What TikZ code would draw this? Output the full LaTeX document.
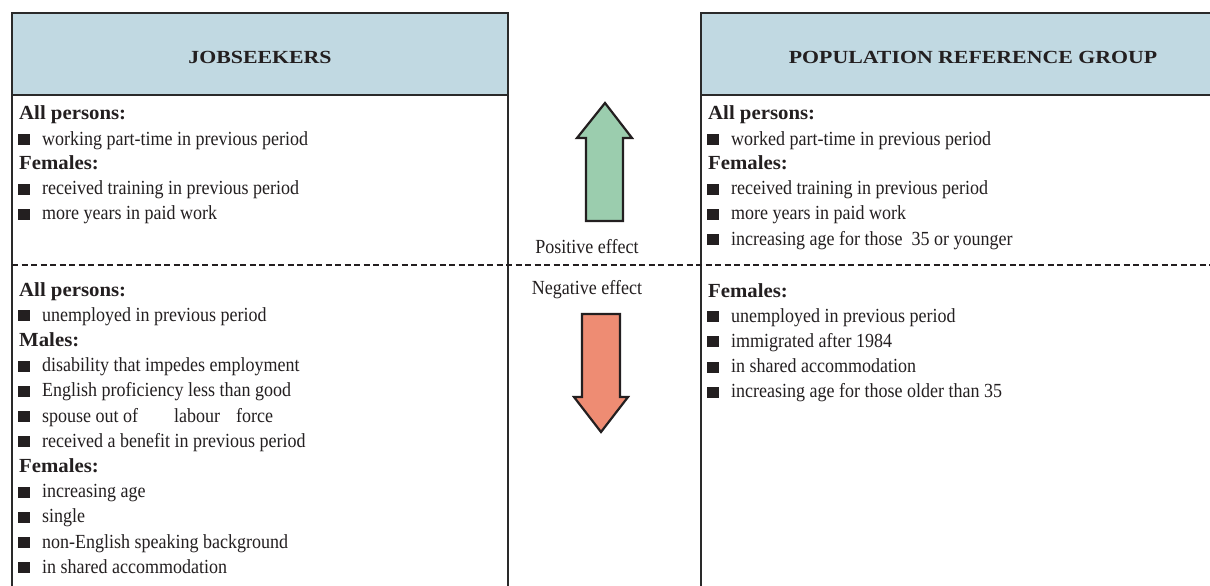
\documentclass[tikz,border=0pt]{standalone}
\usepackage{fontspec}
\setmainfont{Liberation Serif}[FakeStretch=0.9]
\newfontfamily\headfont{Liberation Serif}[FakeStretch=1.18]
\newfontfamily\labfont{Liberation Serif}[FakeStretch=1.04]

\definecolor{ink}{HTML}{231F20}
\definecolor{headblue}{HTML}{C1D9E2}
\definecolor{upgreen}{HTML}{9BCDAE}
\definecolor{downred}{HTML}{EE8C73}
\definecolor{framecol}{HTML}{2A2A2A}

\tikzset{
  headbox/.style={draw=framecol, line width=2.5pt, fill=headblue, outer sep=0pt,
    minimum height=82pt, text height=19pt, text depth=0pt, text=ink,
    font=\headfont\bfseries\fontsize{18.5}{21}\selectfont},
  frameline/.style={draw=framecol, line width=2.5pt},
  divider/.style={draw=ink, line width=2pt, dash pattern=on 6pt off 3.5pt},
  rowhead/.style={anchor=base west, inner sep=0pt, text=ink,
    font=\labfont\bfseries\fontsize{20}{22}\selectfont},
  rowitem/.style={anchor=base west, inner sep=0pt, text=ink,
    font=\fontsize{20}{22}\selectfont},
  effect/.style={anchor=base, inner sep=0pt, text=ink, font=\fontsize{20}{22}\selectfont},
  bigarrow/.style={draw=ink, line width=2.2pt, line join=miter}
}

% a bold sub-heading and a bulleted entry
\newcommand\hrow[4]{\node[rowhead] (#1) at (#2,#3) {#4};}
\newcommand\irow[4]{\node[rowitem] (#1) at (#2-1.5,#3) {\rule{12pt}{11pt}\hspace{12.5pt}#4};}

\begin{document}
\begin{tikzpicture}[x=1pt,y=-1pt]
\useasboundingbox (0,0) rectangle (1210,586);
\clip (0,0) rectangle (1210,586);

% column headers
\node[headbox, minimum width=496pt] (jobhead) at (260,54) {JOBSEEKERS};
\node[headbox, minimum width=544pt] (pophead) at (973,54) {POPULATION REFERENCE GROUP};

% open-ended column frames
\draw[frameline] (jobhead.south west) -- ++(0,500);
\draw[frameline] (jobhead.south east) -- ++(0,500);
\draw[frameline] (pophead.south west) -- ++(0,500);

% split between positive and negative effects
\coordinate (divL) at (12,264.5);
\coordinate (divR) at (1212,264.5);
\draw[divider] (divL) -- (divR);

% effect arrows
\draw[bigarrow, fill=upgreen] (605,103) -- (632,138) -- (623,138) -- (623,221)
  -- (586,221) -- (586,138) -- (577,138) -- cycle;
\draw[bigarrow, fill=downred] (601,432) -- (628,397) -- (620,397) -- (620,314)
  -- (582,314) -- (582,397) -- (574,397) -- cycle;
\node[effect] (pos) at (587,253) {Positive effect};
\node[effect] (neg) at (587,294) {Negative effect};

% jobseekers, positive
\hrow{a1}{19}{119.5}{All persons:}
\irow{a2}{19}{145}{working part-time in previous period}
\hrow{a3}{19}{169}{Females:}
\irow{a4}{19}{194.6}{received training in previous period}
\irow{a5}{19}{219.8}{more years in paid work}

% jobseekers, negative
\hrow{b1}{19}{296}{All persons:}
\irow{b2}{19}{321.2}{unemployed in previous period}
\hrow{b3}{19}{346.4}{Males:}
\irow{b4}{19}{371.6}{disability that impedes employment}
\irow{b5}{19}{396.8}{English proficiency less than good}
\irow{b6}{19}{422}{spouse out of\hspace{36pt}labour\hspace{16pt}force}
\irow{b7}{19}{447.2}{received a benefit in previous period}
\hrow{b8}{19}{472.4}{Females:}
\irow{b9}{19}{497.6}{increasing age}
\irow{b10}{19}{522.8}{single}
\irow{b11}{19}{548}{non-English speaking background}
\irow{b12}{19}{573.2}{in shared accommodation}

% reference group, positive
\hrow{c1}{708}{119.5}{All persons:}
\irow{c2}{708}{145}{worked part-time in previous period}
\hrow{c3}{708}{169}{Females:}
\irow{c4}{708}{194.6}{received training in previous period}
\irow{c5}{708}{219.8}{more years in paid work}
\irow{c6}{708}{245}{increasing age for those\hspace{9pt}35 or younger}

% reference group, negative
\hrow{d1}{708}{297}{Females:}
\irow{d2}{708}{322.2}{unemployed in previous period}
\irow{d3}{708}{347.4}{immigrated after 1984}
\irow{d4}{708}{372.6}{in shared accommodation}
\irow{d5}{708}{397.8}{increasing age for those older than 35}
\end{tikzpicture}
\end{document}
